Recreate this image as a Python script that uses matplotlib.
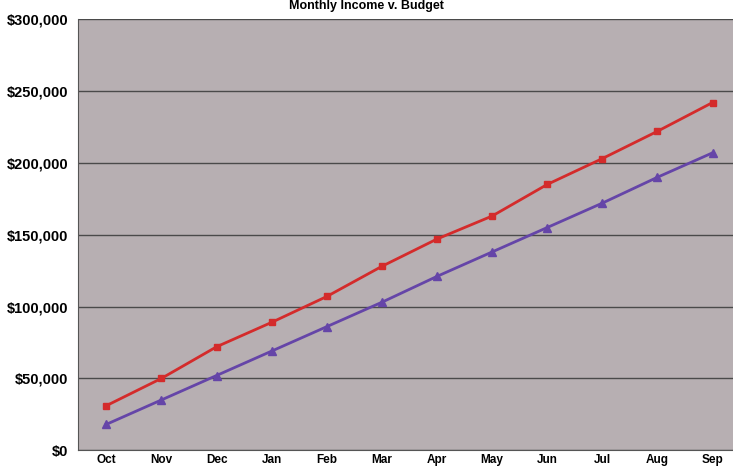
import matplotlib.pyplot as plt
from matplotlib.ticker import FuncFormatter

# data
months  = ['Oct', 'Nov', 'Dec', 'Jan', 'Feb', 'Mar', 'Apr', 'May', 'Jun', 'Jul', 'Aug', 'Sep']
income  = [31000, 50000, 72000, 89000, 107000, 128000, 147000, 163000, 185000, 203000, 222000, 242000]
budget  = [18000, 35000, 52000, 69000, 86000, 103000, 121000, 138000, 155000, 172000, 190000, 207000]
y_ticks = [0, 50000, 100000, 150000, 200000, 250000, 300000]

plt.rcParams['font.family'] = ['Liberation Sans', 'DejaVu Sans']

fig = plt.figure(figsize=(7.33, 4.68), dpi=100)
ax = fig.add_axes([0.106, 0.038, 0.9, 0.921])
ax.set_facecolor('#b7afb2')

x = range(len(months))
ax.plot(x, income, color='#d42b2b', lw=2, marker='s', ms=5, zorder=3)
ax.plot(x, budget, color='#6545a8', lw=2, marker='^', ms=6, zorder=3)

ax.set_xlim(-0.52, 11.45)
ax.set_ylim(0, 300000)
ax.set_yticks(y_ticks)
ax.yaxis.set_major_formatter(FuncFormatter(lambda v, p: f'${v:,.0f}'))
ax.set_xticks(list(x))
ax.set_xticklabels(months)
ax.grid(axis='y', color='#4a4a4a', lw=1)
ax.tick_params(length=0)
for lbl in ax.get_xticklabels() + ax.get_yticklabels():
    lbl.set_fontweight('bold')
ax.tick_params(axis='x', pad=3, labelsize=8.5)
ax.tick_params(axis='y', pad=7, labelsize=10.5)
for s in ['top', 'right']:
    ax.spines[s].set_visible(False)
ax.spines['left'].set_color('#555555')
ax.spines['bottom'].set_color('#555555')

fig.text(0.5, 0.999, 'Monthly Income v. Budget', ha='center', va='top',
         fontsize=9, fontweight='bold')

fig.savefig('out.png', dpi=100)
